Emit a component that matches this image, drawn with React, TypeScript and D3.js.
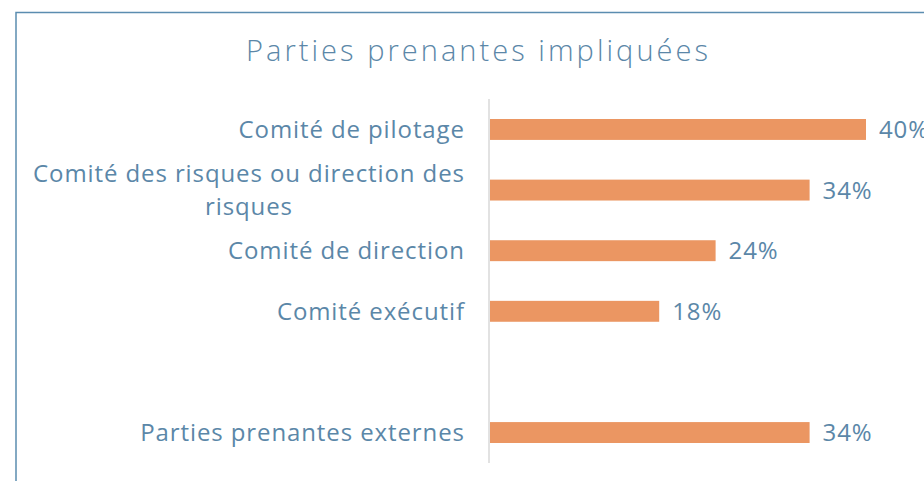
import { useEffect, useRef } from "react";
import * as d3 from "d3";

const categories = [
  "Comité de pilotage",
  "Comité des risques ou direction des risques",
  "Comité de direction",
  "Comité exécutif",
  "",
  "Parties prenantes externes",
];
const values = [40, 34, 24, 18, null, 34];
const labelLines: string[][] = [
  ["Comité de pilotage"],
  ["Comité des risques ou direction des", "risques"],
  ["Comité de direction"],
  ["Comité exécutif"],
  [],
  ["Parties prenantes externes"],
];
const title = "Parties prenantes impliquées";

const W = 924;
const H = 481;
const textColor = "#5b87a8";
const barColor = "#eb9662";
const font = "'Open Sans', sans-serif";
const ls = 0.9;

const App = () => {
  const ref = useRef<SVGSVGElement>(null);

  useEffect(() => {
    if (!ref.current) return;
    const svg = d3.select(ref.current);
    svg.selectAll("*").remove();

    // frame
    svg
      .append("path")
      .attr("d", `M16,${H} V12.5 H${W}`)
      .attr("fill", "none")
      .attr("stroke", "#5b8db0")
      .attr("stroke-width", 1.5);

    svg
      .append("text")
      .attr("x", 477)
      .attr("y", 61)
      .attr("text-anchor", "middle")
      .attr("fill", textColor)
      .style("font-family", font)
      .style("font-size", "29px")
      .style("font-weight", 300)
      .attr("textLength", 462)
      .attr("lengthAdjust", "spacing")
      .text(title);

    const y = d3
      .scaleBand()
      .domain(categories.map((c, i) => String(i)))
      .range([99, 463])
      .paddingInner(0.655)
      .paddingOuter(0.33);

    const x = d3.scaleLinear().domain([0, 40]).range([490, 866]);

    svg
      .append("line")
      .attr("x1", 489)
      .attr("x2", 489)
      .attr("y1", 99)
      .attr("y2", 463)
      .attr("stroke", "#d9d9d9")
      .attr("stroke-width", 1.5);

    const rows = categories.map((c, i) => ({ key: String(i), v: values[i], lines: labelLines[i] }));

    svg
      .selectAll("rect.bar")
      .data(rows.filter((d) => d.v != null))
      .join("rect")
      .attr("class", "bar")
      .attr("x", x(0))
      .attr("y", (d) => y(d.key)!)
      .attr("height", y.bandwidth())
      .attr("width", (d) => x(d.v as number) - x(0))
      .attr("fill", barColor);

    svg
      .selectAll("text.val")
      .data(rows.filter((d) => d.v != null))
      .join("text")
      .attr("class", "val")
      .attr("x", (d) => x(d.v as number) + 13)
      .attr("y", (d) => y(d.key)! + y.bandwidth() / 2)
      .attr("dy", "0.36em")
      .attr("fill", textColor)
      .style("font-family", font)
      .style("font-size", "24px")
      .style("font-weight", 400)
      .style("letter-spacing", `${ls}px`)
      .text((d) => `${d.v}%`);

    const lineH = 33;
    rows.forEach((d) => {
      if (!d.lines.length) return;
      const cy = y(d.key)! + y.bandwidth() / 2;
      const n = d.lines.length;
      const t = svg
        .append("text")
        .attr("fill", textColor)
        .style("font-family", font)
        .style("font-size", "24px")
        .style("font-weight", 400)
        .style("letter-spacing", `${ls}px`);
      const first = t
        .append("tspan")
        .attr("x", 464 + ls)
        .attr("y", cy - ((n - 1) * lineH) / 2)
        .attr("dy", "0.36em")
        .attr("text-anchor", "end")
        .text(d.lines[0]);
      const w = (first.node() as SVGTSpanElement).getComputedTextLength();
      d.lines.slice(1).forEach((l, j) => {
        t.append("tspan")
          .attr("x", 464 + ls - w / 2)
          .attr("y", cy - ((n - 1) * lineH) / 2 + (j + 1) * lineH)
          .attr("dy", "0.36em")
          .attr("text-anchor", "middle")
          .text(l);
      });
    });
  }, []);

  return (
    <svg
      ref={ref}
      width={W}
      height={H}
      style={{ position: "absolute", left: 0, top: 0, background: "#fff" }}
    />
  );
};

export default App;
